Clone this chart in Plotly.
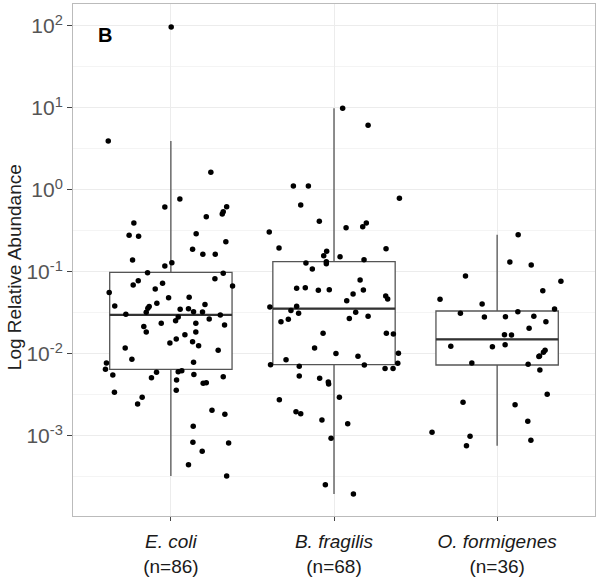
import plotly.graph_objects as go

# ---------------- data ----------------
categories = ["E. coli", "B. fragilis", "O. formigenes"]
n_counts = [86, 68, 36]

# y-axis tick exponents (powers of ten)
y_exponents = [-3, -2, -1, 0, 1, 2]

# box statistics (q1, median, q3, lower whisker end, upper whisker end)
box_q1 = [0.0065, 0.00741, 0.00734]
box_median = [0.030, 0.0357, 0.0151]
box_q3 = [0.099, 0.1337, 0.0334]
box_low = [0.000325, 0.000196, 0.00076]
box_high = [3.96, 9.91, 0.285]

# E. coli points: abundance and horizontal jitter
ecoli_values = [
    97.2, 3.96, 1.64, 0.777, 0.620, 0.626, 0.544, 0.510, 0.473, 0.396, 0.2935,
    0.280, 0.272, 0.2344, 0.189, 0.164, 0.164, 0.140, 0.130, 0.118, 0.0981,
    0.0963, 0.0829, 0.0784, 0.0694, 0.0727, 0.0675, 0.0621, 0.056, 0.0486,
    0.0491, 0.0385, 0.0378, 0.0361, 0.0415, 0.040, 0.0351, 0.0357, 0.0328,
    0.0325, 0.0322, 0.0305, 0.0299, 0.0283, 0.0255, 0.0267, 0.0237, 0.0237,
    0.0226, 0.0216, 0.01855, 0.01855, 0.0172, 0.01524, 0.01362, 0.01414,
    0.01264, 0.01183, 0.01108, 0.00861, 0.00791, 0.00777, 0.0065, 0.00554,
    0.00598, 0.00609, 0.00626, 0.00514, 0.0056, 0.00529, 0.00482, 0.00439,
    0.00447, 0.00341, 0.0036, 0.00296, 0.00246, 0.00206, 0.00184, 0.00131,
    0.000837, 0.000822, 0.00065, 0.000447, 0.000325,
]
ecoli_jitter = [
    0.002, -0.384, 0.245, 0.055, -0.037, 0.342, 0.321, 0.315, 0.217, -0.227,
    0.155, -0.256, -0.198, 0.337, 0.133, 0.196, 0.272, -0.235, 0.006, -0.037,
    -0.143, 0.321, 0.270, -0.200, -0.231, -0.051, 0.378, -0.096, -0.378,
    -0.014, 0.112, -0.344, -0.133, -0.141, -0.086, 0.209, 0.057, 0.108, 0.139,
    0.194, -0.151, -0.276, 0.303, 0.045, 0.029, 0.235, -0.059, 0.153, 0.329,
    -0.166, -0.151, 0.153, 0.086, 0.033, -0.006, 0.133, 0.170, -0.280, 0.290,
    -0.239, 0.139, -0.395, -0.401, -0.356, -0.088, 0.045, 0.067, -0.119,
    0.141, 0.321, 0.035, 0.198, 0.217, -0.346, 0.033, -0.176, -0.204, 0.252,
    0.331, 0.137, 0.135, 0.354, 0.192, 0.108, 0.342,
]

bfrag_values = [
    9.91, 6.15, 1.119, 1.119, 0.791, 0.656, 0.415, 0.347, 0.357, 0.396,
    0.3075, 0.1962, 0.1926, 0.1787, 0.1582, 0.1538, 0.1414, 0.1337, 0.1264,
    0.1288, 0.1086, 0.0799, 0.0632, 0.0644, 0.0598, 0.0609, 0.0603, 0.0539,
    0.0510, 0.0469, 0.0447, 0.0374, 0.0381, 0.0338, 0.0313, 0.0322, 0.0248,
    0.0265, 0.0270, 0.0288, 0.01787, 0.01787, 0.01754, 0.01183, 0.0101,
    0.00937, 0.00853, 0.0102, 0.0077, 0.00741, 0.00707, 0.00734, 0.00663,
    0.00663, 0.00539, 0.00505, 0.00456, 0.00431, 0.00296, 0.00277, 0.00198,
    0.00186, 0.00157, 0.00141, 0.000937, 0.000255, 0.000196,
]
bfrag_jitter = [
    0.053, 0.209, -0.249, -0.157, 0.401, -0.204, -0.090, 0.074, 0.176, 0.198,
    -0.397, -0.337, 0.319, -0.045, -0.063, 0.037, 0.184, -0.047, -0.047,
    -0.172, -0.133, 0.160, -0.229, -0.176, -0.096, -0.029, 0.180, 0.117,
    0.317, 0.329, 0.078, -0.393, -0.229, -0.264, -0.217, 0.133, -0.325,
    -0.280, 0.094, 0.209, -0.067, 0.321, 0.364, -0.119, 0.012, 0.147, -0.294,
    0.395, 0.391, -0.389, -0.213, 0.186, 0.313, 0.362, -0.213, -0.088,
    -0.035, -0.033, 0.033, -0.335, -0.233, -0.204, -0.074, 0.084, -0.018,
    -0.053, 0.119,
]

oform_values = [
    0.285, 0.1324, 0.1217, 0.0894, 0.0769, 0.0592, 0.0464, 0.0407, 0.0354,
    0.0313, 0.0328, 0.0283, 0.0285, 0.0288, 0.0248, 0.0206, 0.0172, 0.01705,
    0.0124, 0.01229, 0.0130, 0.01108, 0.01048, 0.00945, 0.0093, 0.00777,
    0.00748, 0.00638, 0.00322, 0.00257, 0.00241, 0.00151, 0.00111, 0.00099,
    0.000762, 0.000885,
]
oform_jitter = [
    0.129, 0.078, 0.209, -0.194, 0.391, 0.280, -0.350, -0.092, 0.352, -0.225,
    0.127, -0.078, 0.051, 0.225, 0.299, 0.196, 0.045, 0.088, -0.284, -0.029,
    0.049, 0.294, 0.284, 0.260, 0.256, -0.155, 0.190, 0.262, 0.307, -0.209,
    0.110, 0.188, -0.399, -0.166, -0.188, 0.207,
]

point_values = [ecoli_values, bfrag_values, oform_values]
point_jitter = [ecoli_jitter, bfrag_jitter, oform_jitter]

tick_labels = [f"<i>{c}</i><br>(n={n})" for c, n in zip(categories, n_counts)]
positions = [1, 2, 3]
box_width = 0.75

FONT = "Liberation Sans, Arial, Helvetica, sans-serif"

fig = go.Figure()

for i, pos in enumerate(positions):
    fig.add_trace(go.Box(
        x=[pos], q1=[box_q1[i]], median=[box_median[i]], q3=[box_q3[i]],
        lowerfence=[box_low[i]], upperfence=[box_high[i]],
        width=box_width, whiskerwidth=0, boxpoints=False,
        fillcolor="white", line=dict(color="#555555", width=1.3),
        hoverinfo="skip", showlegend=False,
    ))
    # thicker median line, as in ggplot
    fig.add_trace(go.Scatter(
        x=[pos - box_width / 2, pos + box_width / 2],
        y=[box_median[i], box_median[i]],
        mode="lines", line=dict(color="#333333", width=2.2),
        hoverinfo="skip", showlegend=False,
    ))

for i, pos in enumerate(positions):
    fig.add_trace(go.Scatter(
        x=[pos + j for j in point_jitter[i]],
        y=point_values[i],
        mode="markers",
        marker=dict(color="black", size=5.5),
        showlegend=False,
    ))

y_tickvals = [10 ** e for e in y_exponents]
y_ticktext = [f"10<sup>{e}</sup>" for e in y_exponents]
minor_vals = [10 ** (e + 0.5) for e in range(-4, 3)]

fig.update_layout(
    width=600, height=581,
    margin=dict(l=73, r=5, t=4, b=65, autoexpand=False),
    paper_bgcolor="white", plot_bgcolor="white",
    font=dict(family=FONT),
    xaxis=dict(
        range=[0.4, 3.6], tickmode="array", tickvals=positions,
        ticktext=tick_labels, tickfont=dict(size=19, color="#1a1a1a"),
        ticklabelstandoff=4,
        showgrid=True, gridcolor="#ececec", gridwidth=1,
        ticks="outside", ticklen=4, tickcolor="#444444", tickwidth=1,
        showline=True, linecolor="#bbbbbb", linewidth=1, mirror=True,
        zeroline=False, automargin=False,
    ),
    yaxis=dict(
        type="log", range=[-3.976, 2.268],
        tickmode="array", tickvals=y_tickvals, ticktext=y_ticktext,
        tickfont=dict(size=21, color="#555555"),
        showgrid=True, gridcolor="#ececec", gridwidth=1,
        minor=dict(tickmode="array", tickvals=minor_vals, showgrid=True,
                   gridcolor="#f4f4f4", gridwidth=1, ticks=""),
        ticks="outside", ticklen=5, tickcolor="#444444", tickwidth=1,
        showline=True, linecolor="#bbbbbb", linewidth=1, mirror=True,
        zeroline=False, automargin=False,
    ),
    annotations=[
        dict(
            text="<b>B</b>", xref="paper", yref="paper", x=0.044, y=0.940,
            xanchor="left", yanchor="middle", showarrow=False,
            font=dict(size=20, color="black"),
        ),
        dict(
            text="Log Relative Abundance", xref="paper", yref="paper",
            x=-0.113, y=0.486, xanchor="center", yanchor="middle",
            textangle=-90, showarrow=False,
            font=dict(size=19, color="#222222"),
        ),
    ],
)

fig.write_html(
    "out.html",
    config={"displayModeBar": False},
    post_script="document.body.style.margin='0';",
)
